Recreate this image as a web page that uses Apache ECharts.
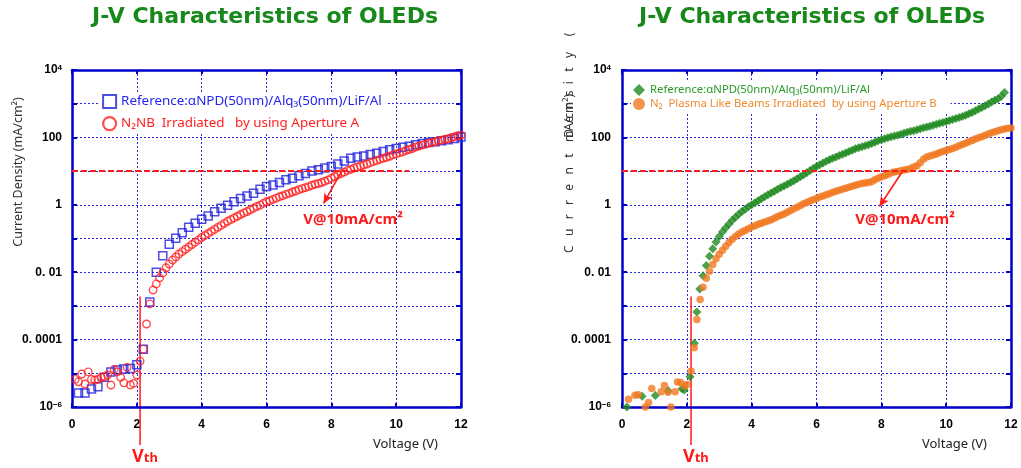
<!DOCTYPE html>
<html><head><meta charset="utf-8">
<script src="https://cdn.jsdelivr.net/npm/echarts@6/dist/echarts.min.js"></script>
<style>html,body{margin:0;padding:0;background:#fff}#c{width:1021px;height:468px}</style>
</head><body><div id="c"></div>
<script>
// ---------------- data ----------------
const titleText = 'J-V Characteristics of OLEDs';
const xTickLabels = ['0','2','4','6','8','10','12'];
const yTickExp = [4, 2, 0, -2, -4, -6];
const yTickText = ['10{s|4}', '100', '1', '0. 01', '0. 0001', '10{s|−6}'];

// Left panel: reference (blue squares)
const refA_V = [0.2,0.4,0.6,0.8,1.0,1.2,1.4,1.6,1.8,2.0,2.2,2.4,2.6,2.8,3.0,3.2,3.4,3.6,3.8,4.0,4.2,4.4,4.6,4.8,5.0,5.2,5.4,5.6,5.8,6.0,6.2,6.4,6.6,6.8,7.0,7.2,7.4,7.6,7.8,8.0,8.2,8.4,8.6,8.8,9.0,9.2,9.4,9.6,9.8,10.0,10.2,10.4,10.6,10.8,11.0,11.2,11.4,11.6,11.8,12.0];
const refA_J = [2.6e-6,2.6e-6,3.4e-6,4.0e-6,7.6e-6,1.1e-5,1.26e-5,1.35e-5,1.4e-5,1.8e-5,
  5.2e-5,1.3e-3,0.010,0.031,0.068,0.102,0.148,0.214,0.282,0.372,
  0.468,0.617,0.794,0.977,1.23,1.55,1.82,2.19,2.88,3.47,
  3.89,4.57,5.50,6.17,7.24,8.51,10.0,11.0,12.3,13.8,
  16.2,20.0,24.0,26.3,28.2,30.9,33.9,38.0,42.7,46.8,
  51.3,55.0,60.3,66.1,70.8,74.1,79.4,85.1,93.3,102];

// Left panel: N2NB irradiated (red circles)
const n2nb_V = [0.1,0.2,0.3,0.4,0.5,0.6,0.7,0.8,0.9,1.0,1.1,1.2,1.3,1.4,1.5,1.6,1.7,1.8,1.9,2.0,
  2.1,2.2,2.3,2.4,2.5,2.6,2.7,2.8,2.9,3.0,3.1,3.2,3.3,3.4,3.5,3.6,3.7,3.8,3.9,4.0,
  4.1,4.2,4.3,4.4,4.5,4.6,4.7,4.8,4.9,5.0,5.1,5.2,5.3,5.4,5.5,5.6,5.7,5.8,5.9,6.0,
  6.1,6.2,6.3,6.4,6.5,6.6,6.7,6.8,6.9,7.0,7.1,7.2,7.3,7.4,7.5,7.6,7.7,7.8,7.9,8.0,
  8.1,8.2,8.3,8.4,8.5,8.6,8.7,8.8,8.9,9.0,9.1,9.2,9.3,9.4,9.5,9.6,9.7,9.8,9.9,10.0,
  10.1,10.2,10.3,10.4,10.5,10.6,10.7,10.8,10.9,11.0,11.1,11.2,11.3,11.4,11.5,11.6,11.7,11.8,11.9,12.0];
const n2nb_J = [6.6e-6,5.6e-6,9.5e-6,4.8e-6,1.1e-5,6.6e-6,6.3e-6,6.6e-6,7.6e-6,7.9e-6,
  8.9e-6,4.5e-6,1.3e-5,1.1e-5,7.6e-6,5.2e-6,1.5e-5,4.5e-6,5.0e-6,8.9e-6,
  2.3e-5,5.2e-5,2.9e-4,1.15e-3,2.95e-3,4.5e-3,6.8e-3,9.5e-3,0.0135,0.0174,
  0.0229,0.0282,0.0347,0.0407,0.0479,0.0562,0.0661,0.0776,0.0912,0.107,
  0.123,0.141,0.162,0.186,0.214,0.245,0.282,0.324,0.363,0.407,
  0.457,0.513,0.575,0.631,0.708,0.794,0.891,0.977,1.10,1.23,
  1.32,1.45,1.58,1.74,1.86,2.04,2.19,2.40,2.57,2.82,
  3.02,3.24,3.47,3.80,4.07,4.27,4.57,5.01,5.50,6.17,
  6.92,7.76,8.51,9.33,10.5,11.2,12.3,13.2,14.1,15.1,
  16.2,17.8,19.1,20.4,22.4,24.0,25.7,27.5,30.2,32.4,
  34.7,37.2,40.7,43.7,46.8,51.3,55.0,58.9,63.1,67.6,
  70.8,74.1,79.4,83.2,87.1,91.2,97.7,105,112,117];

// Right panel: reference (green diamonds)
const refB_V = [0.15,0.62,1.03,1.42,1.85,1.92,2.1,2.23,2.31,
  2.4,2.5,2.6,2.7,2.8,2.9,3.0,3.1,3.2,3.3,3.4,3.5,3.6,3.7,3.8,3.9,4.0,4.1,4.2,4.3,
  4.4,4.5,4.6,4.7,4.8,4.9,5.0,5.1,5.2,5.3,5.4,5.5,5.6,5.7,5.8,5.9,6.0,6.1,6.2,6.3,
  6.4,6.5,6.6,6.7,6.8,6.9,7.0,7.1,7.2,7.3,7.4,7.5,7.6,7.7,7.8,7.9,8.0,8.1,8.2,8.3,
  8.4,8.5,8.6,8.7,8.8,8.9,9.0,9.1,9.2,9.3,9.4,9.5,9.6,9.7,9.8,9.9,10.0,10.1,10.2,10.3,
  10.4,10.5,10.6,10.7,10.8,10.9,11.0,11.1,11.2,11.3,11.4,11.5,11.6,11.7,11.8];
const refB_J = [1.0e-6,2.1e-6,2.2e-6,3.1e-6,3.5e-6,3.2e-6,7.9e-6,7.8e-5,6.6e-4,
  3.2e-3,7.9e-3,0.0158,0.0295,0.050,0.079,0.115,0.158,0.209,0.269,
  0.347,0.427,0.525,0.631,0.741,0.871,1.00,1.15,1.32,1.51,
  1.74,2.00,2.24,2.51,2.88,3.24,3.63,4.07,4.57,5.13,
  5.89,6.76,7.76,8.91,10.5,12.0,13.8,15.5,17.4,19.5,
  21.9,24.0,26.3,28.8,31.6,34.7,38.0,41.7,45.7,49.0,
  52.5,56.2,60.3,66.1,72.4,79.4,85.1,91.2,97.7,105,
  110,115,123,132,141,151,158,170,182,195,
  204,214,229,245,263,275,295,316,339,363,
  389,417,457,501,550,617,692,776,871,977,
  1122,1259,1413,1660,2138];

// Right panel: N2 plasma like beams (orange circles)
const plasma_V = [0.2,0.4,0.5,0.72,0.82,0.92,1.21,1.31,1.42,1.51,1.64,1.71,1.81,1.93,2.0,2.13,2.23,2.31,2.41,
  2.5,2.6,2.7,2.8,2.9,3.0,3.1,3.2,3.3,3.4,3.5,3.6,3.7,3.8,3.9,4.0,4.1,4.2,4.3,4.4,
  4.5,4.6,4.7,4.8,4.9,5.0,5.1,5.2,5.3,5.4,5.5,5.6,5.7,5.8,5.9,6.0,6.1,6.2,6.3,6.4,
  6.5,6.6,6.7,6.8,6.9,7.0,7.1,7.2,7.3,7.4,7.5,7.6,7.7,7.8,7.9,8.0,8.1,8.2,8.3,8.4,
  8.5,8.6,8.7,8.8,8.9,9.0,9.1,9.2,9.3,9.4,9.5,9.6,9.7,9.8,9.9,10.0,10.1,10.2,10.3,10.4,
  10.5,10.6,10.7,10.8,10.9,11.0,11.1,11.2,11.3,11.4,11.5,11.6,11.7,11.8,11.9,12.0];
const plasma_J = [1.7e-6,2.24e-6,2.3e-6,1.0e-6,1.35e-6,3.55e-6,2.82e-6,4.37e-6,2.75e-6,1.0e-6,2.82e-6,5.5e-6,5.37e-6,4.17e-6,4.68e-6,1.17e-5,5.75e-5,3.98e-4,1.55e-3,
  3.55e-3,6.61e-3,0.0107,0.0170,0.0251,0.0339,0.0447,0.0589,0.0759,0.0955,
  0.115,0.135,0.155,0.174,0.195,0.219,0.240,0.263,0.282,0.309,
  0.331,0.363,0.398,0.447,0.490,0.537,0.603,0.676,0.759,0.851,
  0.955,1.07,1.17,1.29,1.41,1.55,1.70,1.82,2.00,2.14,
  2.34,2.51,2.69,2.88,3.09,3.31,3.55,3.80,4.07,4.27,
  4.47,4.57,4.79,5.50,6.17,6.76,7.24,7.94,8.71,9.33,
  9.77,10.2,10.7,11.2,12.0,13.2,14.5,17.8,22.4,26.3,
  28.2,30.2,32.4,35.5,38.0,40.7,43.7,46.8,51.3,56.2,
  61.7,67.6,74.1,81.3,89.1,97.7,105,115,126,138,
  148,158,170,178,186,190];

// annotations (data coordinates)
const refLevelJ = 10;             // 10 mA/cm2 level
const levelLineEndV = 10.4;
const arrowA = [[8.32, 10], [7.76, 1.1]];
const arrowB = [[8.63, 9.1], [7.94, 0.89]];
const arrowLabelA = [8.67, 0.355];
const arrowLabelB = [8.73, 0.36];
const vthV = [2.1, 2.13];
const vthTopJ = 1.9e-3, vthBottomJ = 7.4e-8, vthLabelJ = 3.5e-8;
const vthLabelDV = 0.15;

const legendText = {
  refA: 'Reference:αNPD(50nm)/Alq₃(50nm)/LiF/Al',
  n2nb: 'N₂NB  Irradiated   by using Aperture A',
  refB: 'Reference:αNPD(50nm)/Alq₃(50nm)/LiF/Al',
  plasma: 'N₂  Plasma Like Beams Irradiated  by using Aperture B'
};

// ---------------- chart ----------------
const AX = '#0000cc';
const GRIDLINE = '#2a2ad8';
const zip = (xs, ys) => xs.map((x, i) => [x, ys[i]]);
const tickMap = {};
yTickExp.forEach((e, i) => tickMap[e] = yTickText[i]);

function xAxesFor(gi, nameGap) {
  return [{
    gridIndex: gi, type: 'value', min: 0, max: 12, interval: 2, position: 'bottom',
    axisLine: { onZero: false, lineStyle: { color: AX, width: 2.5 } },
    axisTick: { inside: true, length: 4, lineStyle: { color: AX, width: 2 } },
    axisLabel: { color: '#000', fontWeight: 'bold', fontSize: 12, margin: 12, fontFamily: 'Liberation Sans',
      formatter: v => xTickLabels[Math.round(v / 2)] },
    splitLine: { show: true, lineStyle: { color: GRIDLINE, type: [2, 2], width: 1 } },
    name: 'Voltage (V)', nameLocation: 'end', nameGap: nameGap,
    nameTextStyle: { color: '#222', fontSize: 13, fontFamily: 'Noto Sans', align: 'right', verticalAlign: 'top', padding: [31, 0, 0, 0] }
  }, {
    gridIndex: gi, type: 'value', min: 0, max: 12, interval: 2, position: 'top',
    axisLine: { onZero: false, lineStyle: { color: AX, width: 2.5 } },
    axisTick: { inside: true, length: 4, lineStyle: { color: AX, width: 2 } },
    axisLabel: { show: false }, splitLine: { show: false }
  }];
}
function yAxesFor(gi, margin) {
  return [{
    gridIndex: gi, type: 'log', logBase: 10, min: 1e-6, max: 1e4, interval: 1, position: 'left',
    axisLine: { onZero: false, lineStyle: { color: AX, width: 2.5 } },
    axisTick: { inside: true, length: 5, lineStyle: { color: AX, width: 2 } },
    axisLabel: {
      margin: margin, color: '#000', fontWeight: 'bold', fontSize: 12, fontFamily: 'Liberation Sans',
      formatter: v => { const e = Math.round(Math.log10(v)); return tickMap[e] !== undefined ? tickMap[e] : ''; },
      rich: { s: { fontSize: 8, fontWeight: 'bold', color: '#000', fontFamily: 'Liberation Sans', verticalAlign: 'top', lineHeight: 8 } }
    },
    splitLine: { show: true, lineStyle: { color: GRIDLINE, type: [2, 2], width: 1 } },
    minorTick: { show: false }
  }, {
    gridIndex: gi, type: 'log', logBase: 10, min: 1e-6, max: 1e4, interval: 1, position: 'right',
    axisLine: { onZero: false, lineStyle: { color: AX, width: 2.5 } },
    axisTick: { inside: true, length: 5, lineStyle: { color: AX, width: 2 } },
    axisLabel: { show: false }, splitLine: { show: false }
  }];
}

function levelMarks(arrow, labelPos) {
  return {
    markLine: {
      silent: true, animation: false, symbol: ['none', 'none'], label: { show: false },
      lineStyle: { color: '#ff1a1a', width: 2, type: [6, 3] },
      data: [
        [{ coord: [0, refLevelJ] }, { coord: [levelLineEndV, refLevelJ] }],
        [{ coord: arrow[0], lineStyle: { type: 'solid', width: 1.6, color: '#ff1a1a' } },
         { coord: arrow[1], symbol: 'arrow', symbolSize: [7, 10] }]
      ]
    },
    markPoint: {
      silent: true, animation: false, symbol: 'circle', symbolSize: 0,
      label: { show: true, position: 'inside', formatter: 'V@10mA/cm²', color: '#ff1a1a', fontWeight: 'bold', fontSize: 15, fontFamily: 'Noto Sans' },
      data: [{ coord: labelPos }]
    }
  };
}

const titleStyle = { color: '#17891a', fontSize: 22, fontWeight: 'bold', fontFamily: 'DejaVu Sans' };
const chart = echarts.init(document.getElementById('c'));
const option = {
  animation: false,
  backgroundColor: '#fff',
  title: [
    { text: titleText, left: 265, top: 6, textAlign: 'center', padding: 0, textStyle: titleStyle },
    { text: titleText, left: 812, top: 6, textAlign: 'center', padding: 0, textStyle: titleStyle }
  ],
  legend: [
    { data: [{ name: 'refA', textStyle: { color: '#2525f0' }, itemStyle: { borderWidth: 2 } },
             { name: 'n2nb', textStyle: { color: '#ff2020' }, itemStyle: { borderWidth: 2.2 } }],
      orient: 'vertical', left: 100, top: 92, padding: [2, 6, 2, 2], backgroundColor: '#fff',
      itemWidth: 13, itemHeight: 13, itemGap: 7, z: 5,
      selectedMode: false, formatter: n => legendText[n],
      textStyle: { fontSize: 13.4, fontFamily: 'Noto Sans' } },
    { data: [{ name: 'refB', textStyle: { color: '#2a9a2a' } },
             { name: 'plasma', textStyle: { color: '#f08a30' } }],
      orient: 'vertical', left: 631, top: 82, padding: [2, 14, 2, 2], backgroundColor: '#fff',
      itemWidth: 12, itemHeight: 12, itemGap: 2, z: 5,
      selectedMode: false, formatter: n => legendText[n],
      textStyle: { fontSize: 11.3, fontFamily: 'Noto Sans' } }
  ],
  grid: [
    { left: 72, right: 560, top: 70, bottom: 61 },
    { left: 622, right: 10, top: 70, bottom: 61 }
  ],
  xAxis: [...xAxesFor(0, -23), ...xAxesFor(1, -24)],
  yAxis: [...yAxesFor(0, 10), ...yAxesFor(1, 11)],
  series: [
    { type: 'scatter', name: 'refA', xAxisIndex: 0, yAxisIndex: 0, data: zip(refA_V, refA_J),
      symbol: 'rect', symbolSize: 8, clip: false,
      itemStyle: { color: 'rgba(255,255,255,0)', borderColor: '#2020dd', borderWidth: 1.5 } },
    Object.assign({ type: 'scatter', name: 'n2nb', xAxisIndex: 0, yAxisIndex: 0, data: zip(n2nb_V, n2nb_J),
      symbol: 'circle', symbolSize: 7.5, clip: false,
      itemStyle: { color: 'rgba(255,255,255,0)', borderColor: '#ff2020', borderWidth: 1.4 } },
      levelMarks(arrowA, arrowLabelA)),
    { type: 'scatter', name: 'refB', xAxisIndex: 2, yAxisIndex: 2, data: zip(refB_V, refB_J),
      symbol: 'diamond', symbolSize: 9, clip: false, itemStyle: { color: '#1f8a1f' } },
    Object.assign({ type: 'scatter', name: 'plasma', xAxisIndex: 2, yAxisIndex: 2, data: zip(plasma_V, plasma_J),
      symbol: 'circle', symbolSize: 7.5, clip: false, itemStyle: { color: '#f07820' } },
      levelMarks(arrowB, arrowLabelB))
  ]
};
chart.setOption(option);

// Vth lines and labels + y-axis names (positions taken from the axes)
function px(gi, v, j) { return chart.convertToPixel({ xAxisIndex: gi * 2, yAxisIndex: gi * 2 }, [v, j]); }
const g = [];
[0, 1].forEach(gi => {
  const top = px(gi, vthV[gi], vthTopJ), bot = px(gi, vthV[gi], vthBottomJ);
  g.push({ type: 'line', silent: true, shape: { x1: top[0], y1: top[1], x2: bot[0], y2: bot[1] },
    style: { stroke: '#ff1a1a', lineWidth: 1.5 } });
  const lp = px(gi, vthV[gi] + vthLabelDV, vthLabelJ);
  g.push({ type: 'text', silent: true, x: lp[0], y: lp[1],
    style: { text: '{a|V}{b|th}', align: 'center', verticalAlign: 'middle',
      rich: { a: { fontSize: 18, fontWeight: 'bold', fill: '#ff1a1a', fontFamily: 'Noto Sans', verticalAlign: 'bottom', lineHeight: 20 },
              b: { fontSize: 13, fontWeight: 'bold', fill: '#ff1a1a', fontFamily: 'Noto Sans', verticalAlign: 'bottom', lineHeight: 14, padding: [0, 0, 1.5, 0] } } } });
});
g.push({ type: 'text', silent: true, x: 18, y: 172, rotation: Math.PI / 2,
  style: { text: 'Current Density (mA/cm²)', fill: '#333', fontSize: 12.5, fontFamily: 'Noto Sans', align: 'center', verticalAlign: 'middle' } });
g.push({ type: 'text', silent: true, x: 570, y: 253, rotation: Math.PI / 2,
  style: { text: 'C   u   r   r   e   n   t     D  e  n  s  i   t   y     (', fill: '#333', fontSize: 12, fontFamily: 'Noto Sans', align: 'left', verticalAlign: 'middle' } });
g.push({ type: 'text', silent: true, x: 570, y: 118, rotation: Math.PI / 2,
  style: { text: 'mA/cm²)', fill: '#333', fontSize: 12, fontFamily: 'Noto Sans', align: 'center', verticalAlign: 'middle' } });
chart.setOption({ graphic: g });
</script>
</body></html>
